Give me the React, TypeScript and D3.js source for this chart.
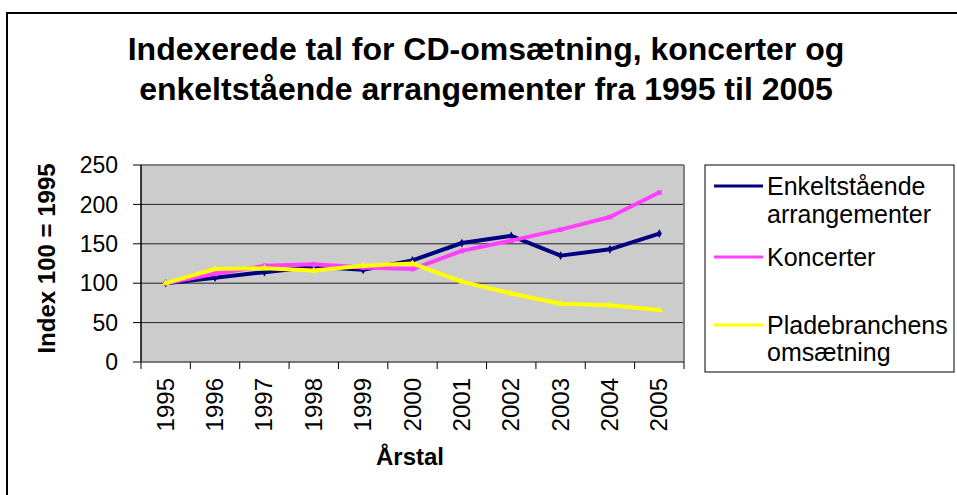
import React from "react";
import * as d3 from "d3";

const years = ["1995", "1996", "1997", "1998", "1999", "2000", "2001", "2002", "2003", "2004", "2005"];
const enkeltstaaende = [100, 107, 114, 121, 117, 129, 151, 160, 135, 143, 163];
const koncerter = [100, 112, 122, 124, 120, 118, 141, 154, 168, 184, 215];
const pladebranchen = [100, 118, 119, 116, 122, 125, 102, 87, 74, 72, 66];
const yTicks = [0, 50, 100, 150, 200, 250];

const series = [
  { name: ["Enkeltstående", "arrangementer"], values: enkeltstaaende, color: "#000080", symbol: d3.symbolDiamond },
  { name: ["Koncerter"], values: koncerter, color: "#ff40ff", symbol: d3.symbolSquare },
  { name: ["Pladebranchens", "omsætning"], values: pladebranchen, color: "#ffff00", symbol: d3.symbolTriangle },
];

const W = 957;
const H = 495;
const plot = { left: 141, right: 684, top: 165, bottom: 362 };
const font = "Arial, 'Liberation Sans', sans-serif";

const App = () => {
  const x = d3.scaleBand().domain(years).range([plot.left, plot.right]);
  const y = d3.scaleLinear().domain([0, 250]).range([plot.bottom, plot.top]);
  const cx = (yr: string) => (x(yr) as number) + x.bandwidth() / 2;

  const line = d3
    .line<number>()
    .x((d, i) => cx(years[i]))
    .y((d) => y(d));

  // legend rows: line y and text baselines
  const legendRows = [
    { lineY: 186, baselines: [195, 223] },
    { lineY: 257, baselines: [266] },
    { lineY: 325, baselines: [334, 361] },
  ];

  return (
    <svg width={W} height={H} style={{ position: "absolute", left: 0, top: 0, background: "#fff" }}>
      {/* outer chart border */}
      <rect x={7} y={13} width={1000} height={1000} fill="none" stroke="#000" strokeWidth={2} />

      {/* title */}
      <text x={486} y={60} textAnchor="middle" fontFamily={font} fontWeight="bold" fontSize={32}>
        Indexerede tal for CD-omsætning, koncerter og
      </text>
      <text x={486} y={100} textAnchor="middle" fontFamily={font} fontWeight="bold" fontSize={32}>
        enkeltstående arrangementer fra 1995 til 2005
      </text>

      {/* plot area */}
      <rect x={plot.left} y={plot.top} width={plot.right - plot.left} height={plot.bottom - plot.top} fill="#cccccc" />
      {yTicks.slice(1, -1).map((t) => (
        <line key={t} x1={plot.left} x2={plot.right} y1={y(t)} y2={y(t)} stroke="#222" strokeWidth={1} />
      ))}
      <line x1={plot.left} x2={plot.right} y1={plot.top} y2={plot.top} stroke="#808080" strokeWidth={2} />
      <line x1={plot.right} x2={plot.right} y1={plot.top} y2={plot.bottom} stroke="#808080" strokeWidth={2} />

      {/* y axis */}
      <line x1={plot.left} x2={plot.left} y1={plot.top} y2={plot.bottom} stroke="#000" strokeWidth={1.5} />
      {yTicks.map((t) => (
        <g key={t}>
          <line x1={plot.left - 8} x2={plot.left} y1={y(t)} y2={y(t)} stroke="#000" />
          <text x={118} y={y(t)} dy="0.36em" textAnchor="end" fontFamily={font} fontSize={23}>
            {t}
          </text>
        </g>
      ))}
      <text
        transform={`translate(55, ${(157 + 360) / 2}) rotate(-90)`}
        textAnchor="middle"
        fontFamily={font}
        fontWeight="bold"
        fontSize={24}
      >
        Index 100 = 1995
      </text>

      {/* x axis */}
      <line x1={plot.left} x2={plot.right} y1={plot.bottom} y2={plot.bottom} stroke="#555" strokeWidth={1.5} />
      {years.map((yr) => (
        <line key={"t" + yr} x1={x(yr)} x2={x(yr)} y1={plot.bottom} y2={plot.bottom + 7} stroke="#000" />
      ))}
      <line x1={plot.right} x2={plot.right} y1={plot.bottom} y2={plot.bottom + 7} stroke="#000" />
      {years.map((yr) => (
        <text
          key={"l" + yr}
          transform={`translate(${cx(yr) + 8}, ${plot.bottom + 16}) rotate(-90)`}
          textAnchor="end"
          fontFamily={font}
          fontSize={24}
        >
          {yr}
        </text>
      ))}
      <text x={410} y={465} textAnchor="middle" fontFamily={font} fontWeight="bold" fontSize={24}>
        Årstal
      </text>

      {/* lines */}
      {series.map((s) => (
        <g key={s.name[0]}>
          <path d={line(s.values) as string} fill="none" stroke={s.color} strokeWidth={4} strokeLinejoin="round" />
          {s.values.map((v, i) => (
            <path
              key={i}
              transform={`translate(${cx(years[i])}, ${y(v)})`}
              d={d3.symbol().type(s.symbol).size(22)() as string}
              fill={s.color}
            />
          ))}
        </g>
      ))}

      {/* legend */}
      <rect x={705} y={165} width={249} height={207} fill="#fff" stroke="#000" strokeWidth={1} />
      {series.map((s, i) => (
        <g key={"lg" + i}>
          <line x1={714} x2={763} y1={legendRows[i].lineY} y2={legendRows[i].lineY} stroke={s.color} strokeWidth={3} />
          {s.name.map((n, j) => (
            <text key={j} x={767} y={legendRows[i].baselines[j]} fontFamily={font} fontSize={25}>
              {n}
            </text>
          ))}
        </g>
      ))}
    </svg>
  );
};

export default App;
